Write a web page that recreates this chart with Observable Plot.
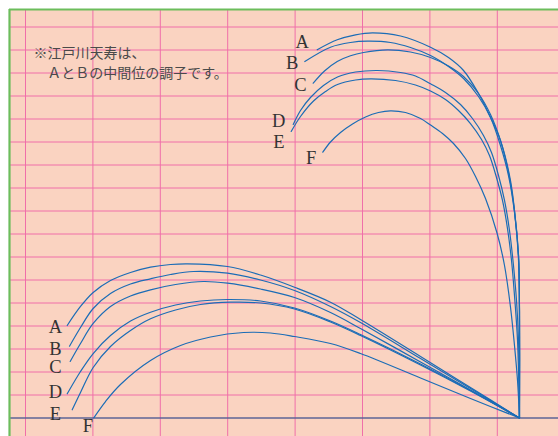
<!DOCTYPE html>
<html>
<head>
<meta charset="utf-8">
<script src="https://cdn.jsdelivr.net/npm/d3@7"></script>
<script src="https://cdn.jsdelivr.net/npm/@observablehq/plot@0.6"></script>
<style>
  html, body { margin: 0; padding: 0; background: #ffffff; }
  svg { display: block; }
</style>
</head>
<body>
<script>
// Units: x = grid columns, y = grid rows above the base line.
const xGrid = [0, 1, 2, 3, 4, 5, 6, 7];
const yGrid = [1, 2, 3, 4, 5, 6, 7, 8, 9, 10, 11, 12, 13, 14, 15, 16, 17];

// Lower family of curves
const lowA = [[0.619,4.022],[0.816,4.848],[1.004,5.457],[1.261,5.978],[1.558,6.326],[1.855,6.557],[2.151,6.674],[2.404,6.704],[2.997,6.587],[3.487,6.217],[3.991,5.687],[4.525,5.035],[4.970,4.283],[5.861,2.674],[6.602,1.326],[7.329,0]];
const lowB = [[0.653,3.122],[0.816,3.935],[1.004,4.761],[1.261,5.413],[1.558,5.826],[1.855,6.052],[2.151,6.239],[2.493,6.370],[2.997,6.296],[3.487,6.000],[3.991,5.543],[4.525,4.848],[4.970,4.152],[5.861,2.587],[6.602,1.283],[7.329,0]];
const lowC = [[0.663,2.457],[0.816,3.239],[1.004,4.109],[1.261,4.848],[1.558,5.304],[1.855,5.574],[2.226,5.804],[2.641,5.935],[2.997,5.861],[3.487,5.609],[3.991,5.239],[4.525,4.587],[4.970,3.891],[5.861,2.435],[6.602,1.217],[7.329,0]];
const lowD = [[0.619,1.052],[0.816,2.022],[1.004,2.804],[1.261,3.587],[1.558,4.217],[1.855,4.600],[2.226,4.913],[2.596,5.087],[2.997,5.152],[3.487,5.087],[3.991,4.783],[4.525,4.217],[4.970,3.630],[5.861,2.348],[6.602,1.196],[7.329,0]];
const lowE = [[0.693,0.357],[0.816,1.109],[1.004,2.196],[1.261,3.109],[1.558,3.804],[1.855,4.313],[2.226,4.696],[2.596,4.935],[3.042,5.035],[3.487,5.000],[3.991,4.739],[4.525,4.174],[4.970,3.587],[5.861,2.304],[6.602,1.174],[7.329,0]];
const lowF = [[1.013,0.009],[1.187,0.717],[1.409,1.457],[1.855,2.500],[2.300,3.152],[2.745,3.522],[3.234,3.717],[3.635,3.696],[3.991,3.543],[4.525,3.239],[4.970,2.804],[5.861,1.739],[6.602,0.848],[7.329,0]];

// Upper family of curves
const highA = [[4.328,16.009],[4.625,16.443],[4.896,16.661],[5.148,16.748],[5.564,16.609],[6.009,16.122],[6.276,15.674],[6.499,15.109],[6.721,14.109],[6.899,13.078],[7.047,12.065],[7.196,10.326],[7.270,8.587],[7.315,6.848],[7.329,4.674],[7.329,0]];
const highB = [[4.144,15.500],[4.525,16.122],[4.822,16.326],[5.074,16.383],[5.415,16.326],[5.712,16.109],[6.009,15.761],[6.276,15.283],[6.499,14.761],[6.721,13.978],[6.899,13.065],[7.047,11.848],[7.166,10.543],[7.255,8.935],[7.315,7.065],[7.329,4.674],[7.329,0]];
const highC = [[4.269,14.557],[4.436,15.087],[4.625,15.500],[4.822,15.748],[5.015,15.891],[5.371,16.009],[5.712,15.913],[6.009,15.674],[6.276,15.304],[6.499,14.848],[6.721,14.109],[6.899,13.196],[7.047,12.065],[7.166,10.674],[7.255,9.022],[7.315,7.065],[7.329,4.674],[7.329,0]];
const highD = [[3.972,12.761],[4.080,13.370],[4.228,13.935],[4.421,14.457],[4.629,14.826],[4.896,15.043],[5.223,15.109],[5.564,15.022],[5.786,14.870],[6.009,14.530],[6.231,14.152],[6.454,13.630],[6.632,13.022],[6.795,12.283],[6.914,11.543],[7.018,10.543],[7.107,9.457],[7.181,8.152],[7.240,6.630],[7.285,5.109],[7.315,3.370],[7.329,0]];
const highE = [[3.942,12.457],[4.080,13.109],[4.273,13.783],[4.451,14.196],[4.629,14.500],[4.896,14.696],[5.119,14.748],[5.490,14.674],[5.786,14.478],[6.009,14.217],[6.231,13.848],[6.424,13.370],[6.602,12.804],[6.766,12.109],[6.884,11.413],[6.988,10.457],[7.077,9.457],[7.151,8.239],[7.211,6.848],[7.255,5.326],[7.300,3.370],[7.329,0]];
const highF = [[4.411,11.557],[4.525,12.000],[4.674,12.413],[4.852,12.783],[5.045,13.087],[5.237,13.283],[5.415,13.357],[5.638,13.283],[5.861,13.022],[6.009,12.739],[6.187,12.370],[6.350,11.935],[6.528,11.283],[6.677,10.500],[6.825,9.543],[6.998,8.022],[7.107,6.630],[7.196,4.817],[7.255,3.152],[7.300,1.630],[7.329,0]];

const curves = [lowA, lowB, lowC, lowD, lowE, lowF, highA, highB, highC, highD, highE, highF];

// Curve labels
const labelNames = ["A", "B", "C", "D", "E", "F", "A", "B", "C", "D", "E", "F"];
const labelX = [0.445, 0.445, 0.445, 0.445, 0.445, 0.924, 4.105, 3.957, 4.080, 3.758, 3.758, 4.239];
const labelY = [3.95, 3.01, 2.21, 1.12, 0.18, -0.33, 16.34, 15.43, 14.46, 12.93, 11.99, 11.31];

// Note text
const noteLines = ["※江戸川天寿は、", "ＡとＢの中間位の調子です。"];
const noteX = [0.119, 0.322];
const noteY = [15.83, 14.99];

const xDomain = [-0.2374, 7.908];
const yDomain = [-0.8043, 17.761];

const labels = labelNames.map((t, i) => ({t, x: labelX[i], y: labelY[i]}));
const notes = noteLines.map((t, i) => ({t, x: noteX[i], y: noteY[i]}));

const chart = Plot.plot({
  width: 558,
  height: 436,
  marginLeft: 9,
  marginTop: 9,
  marginRight: 0,
  marginBottom: 0,
  x: {domain: xDomain, axis: null},
  y: {domain: yDomain, axis: null},
  marks: [
    Plot.frame({fill: "#fad3c1", stroke: null}),
    Plot.ruleX(xGrid, {stroke: "#f06fa9", strokeWidth: 1}),
    Plot.ruleY(yGrid, {stroke: "#f06fa9", strokeWidth: 1}),
    Plot.ruleY([0], {stroke: "#5d6596", strokeWidth: 1.3}),
    ...curves.map(c => Plot.line(c, {x: d => d[0], y: d => d[1], curve: "catmull-rom", stroke: "#1b6cb6", strokeWidth: 1.2})),
    Plot.text(labels, {x: "x", y: "y", text: "t", fontFamily: "Liberation Serif", fontSize: 18.5, fill: "#333333", textAnchor: "middle", lineAnchor: "middle"}),
    Plot.text(notes, {x: "x", y: "y", text: "t", fontFamily: "Noto Sans CJK JP", fontSize: 14, fill: "#4a4a4a", textAnchor: "start", lineAnchor: "middle"}),
    Plot.ruleX([xDomain[0]], {stroke: "#6cbd5c", strokeWidth: 2.2}),
    Plot.ruleY([yDomain[1]], {stroke: "#6cbd5c", strokeWidth: 2.2})
  ]
});
document.body.appendChild(chart);
</script>
</body>
</html>
